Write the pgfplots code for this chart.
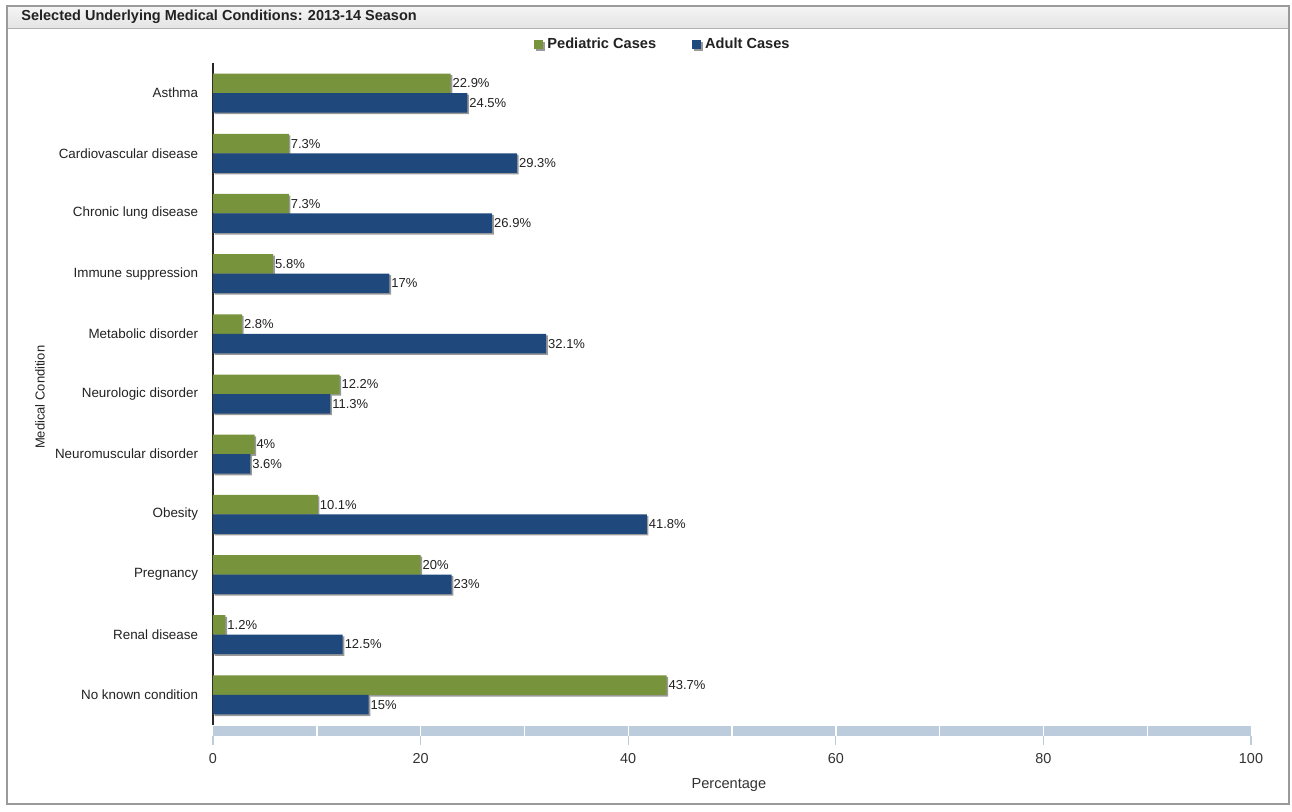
\documentclass[border=0pt]{standalone}
\usepackage{fontspec}
\setmainfont{Liberation Sans}
\usepackage{pgfplots}
\pgfplotsset{compat=1.18}
\usepackage{pgfplotstable}
\usetikzlibrary{shadows}
\definecolor{pedgreen}{HTML}{77933C}
\definecolor{adultblue}{HTML}{1F497D}
\definecolor{bandblue}{HTML}{BCCCDC}
\definecolor{framegray}{HTML}{9A9A9A}
\definecolor{txt}{HTML}{222222}

\pgfplotstableread{
y ped adult
10 22.9 24.5
9 7.3 29.3
8 7.3 26.9
7 5.8 17
6 2.8 32.1
5 12.2 11.3
4 4 3.6
3 10.1 41.8
2 20 23
1 1.2 12.5
0 43.7 15
}\datatable

\begin{document}
\begin{tikzpicture}
\useasboundingbox (0,0) rectangle (646pt,405.5pt);
\fill[white] (0,0) rectangle (646pt,405.5pt);
% title bar
\shade[top color=gray!8, bottom color=gray!22] (3.5pt,391pt) rectangle (644.5pt,402.5pt);
\draw[gray!60, line width=0.5pt] (3.5pt,391pt) -- (644.5pt,391pt);
\draw[framegray, line width=0.8pt] (3.5pt,3.5pt) rectangle (644.5pt,402.5pt);
\node[anchor=west, inner sep=0pt, text=txt, font=\bfseries\fontsize{7.25}{8}\selectfont] at (10.5pt,397pt) {Selected Underlying Medical Conditions: 2013-14 Season};

\begin{axis}[
  at={(106.5pt,43pt)}, anchor=south west,
  scale only axis, width=519pt, height=331pt,
  xmin=0, xmax=100, ymin=-0.5, ymax=10.5,
  xbar, bar width=9.75pt,
  axis lines*=left,
  x axis line style={draw=none},
  y axis line style={draw=black!85, line width=0.6pt},
  xtick={0,20,...,100}, xtick style={draw=none},
  ytick={0,...,10}, ytick style={draw=none},
  yticklabels={No known condition, Renal disease, Pregnancy, Obesity, Neuromuscular disorder, Neurologic disorder, Metabolic disorder, Immune suppression, Chronic lung disease, Cardiovascular disease, Asthma},
  yticklabel style={anchor=east, inner sep=0pt, xshift=-3pt, text=txt, font=\fontsize{6.7}{8}\selectfont},
  xticklabel style={anchor=center, inner sep=0pt, yshift=-17pt, text=black!80, font=\fontsize{7.2}{8}\selectfont},
  /pgf/number format/assume math mode=true,
  xlabel={Percentage},
  every axis x label/.style={at={(axis description cs:0.497,-0.0906)}, anchor=center, text=black!80, font=\fontsize{7.3}{8}\selectfont},
  ylabel={Medical Condition},
  every axis y label/.style={at={(axis description cs:-0.1667,0.495)}, anchor=center, rotate=90, text=txt, font=\fontsize{6.5}{8}\selectfont},
  point meta=x,
  nodes near coords={\pgfmathprintnumber{\pgfplotspointmeta}\%},
  every node near coord/.append style={font=\fontsize{6.5}{7}\selectfont, text=txt, inner xsep=0.8pt, anchor=west},
  legend style={at={(axis description cs:0.4345,1.028)}, anchor=center, draw=none, fill=none, inner sep=0pt,
    legend columns=2, font=\bfseries\fontsize{7.3}{8}\selectfont, text=txt,
    /tikz/every even column/.append style={column sep=16pt}},
  legend cell align=left,
  clip=false,
]
\addplot[fill=pedgreen, draw=none, bar shift=4.875pt,
  drop shadow={shadow xshift=0.8pt, shadow yshift=-0.8pt, fill=black, opacity=0.4},
  legend image code/.code={\fill[pedgreen] (0pt,-2.25pt) rectangle (4.5pt,2.25pt);}]
  table[x=ped, y=y] {\datatable};
\addlegendentry{Pediatric Cases}
\addplot[fill=adultblue, draw=none, bar shift=-4.875pt,
  drop shadow={shadow xshift=0.8pt, shadow yshift=-0.8pt, fill=black, opacity=0.4},
  legend image code/.code={\fill[adultblue] (0pt,-2.25pt) rectangle (4.5pt,2.25pt);}]
  table[x=adult, y=y] {\datatable};
\addlegendentry{Adult Cases}
\end{axis}

% x band
\fill[bandblue] (106.5pt,37.5pt) rectangle (625.5pt,42.5pt);
\foreach \k in {1,...,9} \draw[white, line width=0.7pt] ({106.5pt+51.9pt*\k},37.5pt) -- ++(0,5pt);
\foreach \k in {0,2,4,6,8,10} \draw[bandblue, line width=0.6pt] ({106.5pt+51.9pt*\k},37.5pt) -- ++(0,-4.5pt);
\end{tikzpicture}
\end{document}
